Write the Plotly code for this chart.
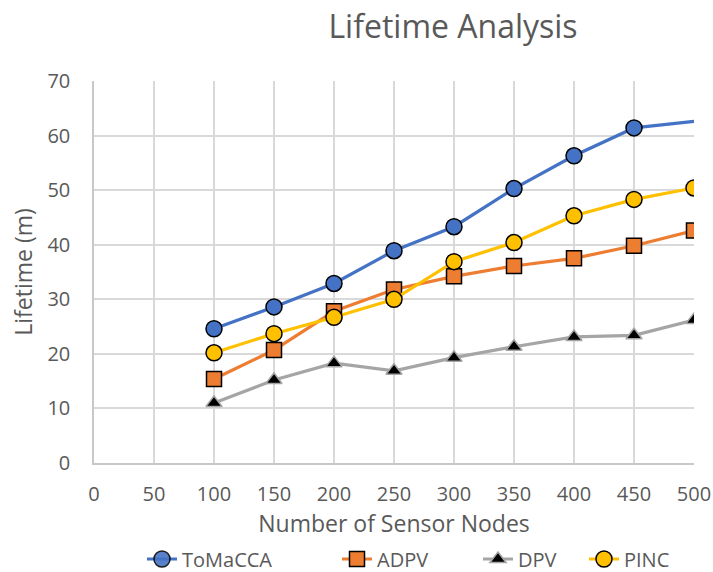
import plotly.graph_objects as go

nodes = [100, 150, 200, 250, 300, 350, 400, 450, 500]
tomacca = [24.6, 28.6, 32.9, 38.9, 43.3, 50.3, 56.3, 61.4, 62.6]
adpv = [15.4, 20.7, 27.8, 31.8, 34.2, 36.1, 37.5, 39.8, 42.6]
dpv = [11.0, 15.2, 18.3, 16.9, 19.3, 21.3, 23.1, 23.4, 26.2]
pinc = [20.2, 23.7, 26.7, 30.0, 36.9, 40.4, 45.3, 48.3, 50.4]

font = "Open Sans"
txt = "#595959"
W, H = 713, 572

fig = go.Figure()
fig.add_trace(go.Scatter(x=nodes, y=tomacca, name="ToMaCCA", mode="lines+markers", legendwidth=150,
                         line=dict(color="#4472C4", width=3.2),
                         marker=dict(symbol="circle", size=16, color="#4472C4",
                                     opacity=[1] * 8 + [0],
                                     line=dict(color="black", width=1.5))))
fig.add_trace(go.Scatter(x=nodes, y=adpv, name="ADPV", mode="lines+markers", legendwidth=96,
                         line=dict(color="#ED7D31", width=3.2),
                         marker=dict(symbol="square", size=15, color="#ED7D31",
                                     line=dict(color="black", width=1.5))))
fig.add_trace(go.Scatter(x=nodes, y=dpv, name="DPV", mode="lines+markers", legendwidth=61,
                         line=dict(color="#A5A5A5", width=3.2),
                         marker=dict(symbol="triangle-up", size=14, color="black",
                                     line=dict(color="#A5A5A5", width=1.5))))
fig.add_trace(go.Scatter(x=nodes, y=pinc, name="PINC", mode="lines+markers",
                         line=dict(color="#FFC000", width=3.2),
                         marker=dict(symbol="circle", size=16, color="#FFC000",
                                     line=dict(color="black", width=1.5))))

fig.update_layout(
    width=W, height=H,
    paper_bgcolor="white", plot_bgcolor="white",
    margin=dict(l=94, r=19, t=81, b=109, autoexpand=False),
    font=dict(family=font, color=txt, size=20),
    title=dict(text="Lifetime Analysis", x=453 / W, xanchor="center", y=1 - 27 / H, yanchor="middle",
               font=dict(size=32, color=txt, family=font)),
    xaxis=dict(range=[0, 500], dtick=50, tick0=0, showgrid=True, gridcolor="#D9D9D9", gridwidth=1.5,
               showline=True, linecolor="#C8C8C8", linewidth=1.5, zeroline=False, automargin=False,
               ticks="outside", ticklen=12, tickcolor="rgba(0,0,0,0)",
               title=dict(text="Number of Sensor Nodes", font=dict(size=23, color=txt), standoff=4),
               tickfont=dict(size=20, color=txt)),
    yaxis=dict(range=[0, 70], dtick=10, showgrid=True, gridcolor="#D9D9D9", gridwidth=1.5,
               showline=True, linecolor="#C8C8C8", linewidth=1.5, zeroline=False, automargin=False,
               ticks="outside", ticklen=18, tickcolor="rgba(0,0,0,0)",
               title=dict(text="Lifetime (m)", font=dict(size=23, color=txt), standoff=8),
               tickfont=dict(size=20, color=txt)),
    legend=dict(orientation="h", x=0.08, xanchor="left", y=(463 - 559) / 382, yanchor="middle",
                font=dict(size=20, color=txt), tracegroupgap=0),
    showlegend=True,
)

fig.write_html("out.html", config={"displayModeBar": False},
               post_script="document.body.style.margin='0';document.body.style.overflow='hidden';")
